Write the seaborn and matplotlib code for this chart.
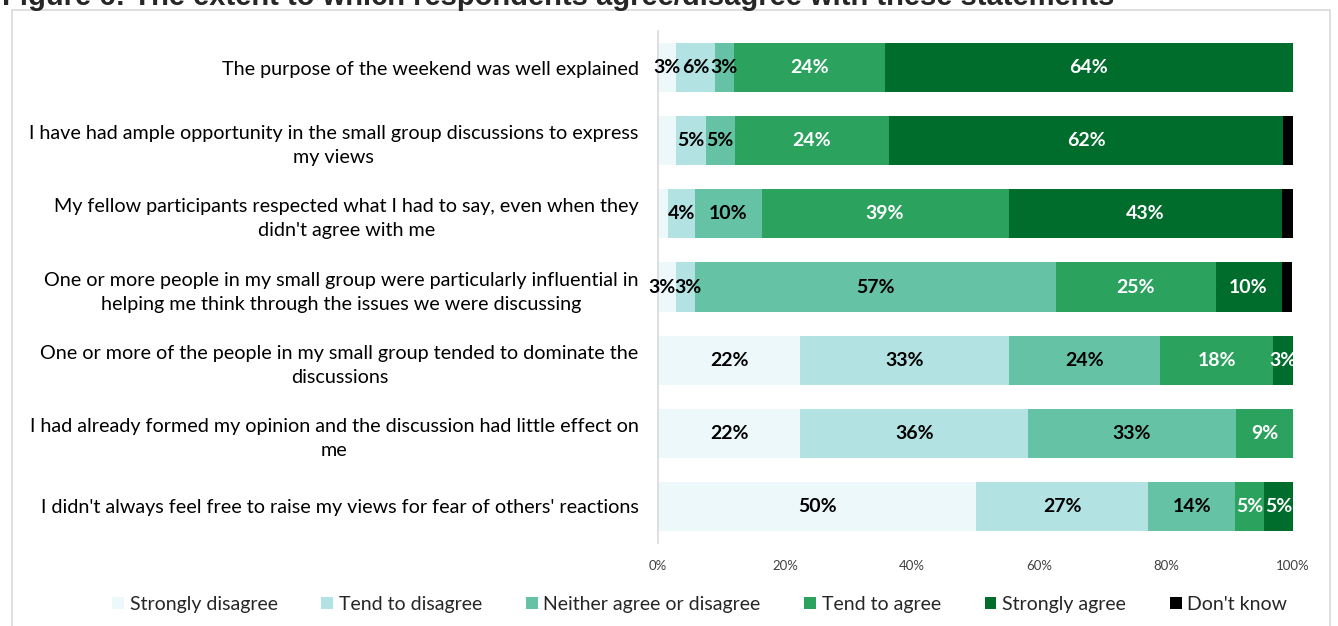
import numpy as np
import pandas as pd
import seaborn as sns
import matplotlib.pyplot as plt
from matplotlib.patches import Rectangle

# statements (top to bottom)
statements = [
    "The purpose of the weekend was well explained",
    "I have had ample opportunity in the small group discussions to express\nmy views",
    "My fellow participants respected what I had to say, even when they\ndidn't agree with me",
    "One or more people in my small group were particularly influential in\nhelping me think through the issues we were discussing",
    "One or more of the people in my small group tended to dominate the\ndiscussions",
    "I had already formed my opinion and the discussion had little effect on\nme",
    "I didn't always feel free to raise my views for fear of others' reactions",
]
responses = ['Strongly disagree', 'Tend to disagree', 'Neither agree or disagree',
             'Tend to agree', 'Strongly agree', "Don't know"]

# % of respondents
strongly_disagree = [2.9, 2.9, 1.5, 2.9, 22.4, 22.4, 50.1]
tend_disagree = [6.1, 4.6, 4.4, 3.0, 32.8, 35.9, 27.1]
neither = [2.9, 4.6, 10.4, 56.7, 23.9, 32.7, 13.7]
tend_agree = [23.8, 24.3, 38.9, 25.2, 17.8, 9.0, 4.6]
strongly_agree = [64.3, 62.0, 43.1, 10.4, 3.1, 0, 4.6]
dont_know = [0, 1.7, 1.7, 1.7, 0, 0, 0]

# labels that aren't shown in the original (row, response)
hidden = [(1, 0), (2, 0)]

colours = ['#EDF8FB', '#B2E2E2', '#66C2A4', '#2CA25F', '#006D2C', '#000000']
text_colours = ['black', 'black', 'black', 'white', 'white', 'white']

df = pd.DataFrame({'statement': statements,
                   responses[0]: strongly_disagree,
                   responses[1]: tend_disagree,
                   responses[2]: neither,
                   responses[3]: tend_agree,
                   responses[4]: strongly_agree,
                   responses[5]: dont_know})
cum = df[responses].cumsum(axis=1)

sns.set_theme(style='white')
plt.rcParams['font.family'] = ['Lato', 'DejaVu Sans']

W, H = 1338, 626
fig = plt.figure(figsize=(W / 100, H / 100), dpi=100)
ax = fig.add_axes([658 / W, 1 - 543 / H, 635 / W, 512 / H])

# stacked bars: draw cumulative totals from the right end back
for j in reversed(range(len(responses))):
    sns.barplot(x=cum[responses[j]], y=df['statement'], orient='h', color=colours[j],
                saturation=1, width=0.67, linewidth=0, label=responses[j], ax=ax)

for i in range(len(statements)):
    for j in range(len(responses) - 1):
        v = df.loc[i, responses[j]]
        if v <= 0 or (i, j) in hidden:
            continue
        x = cum.loc[i, responses[j]] - v / 2
        # two tiny neighbouring segments: push the labels apart a bit
        if v < 3.5 and j + 1 < len(responses) and 0 < df.loc[i, responses[j + 1]] < 3.5:
            x -= 0.9
        elif v < 3.5 and j > 0 and 0 < df.loc[i, responses[j - 1]] < 3.5 and (i, j - 1) not in hidden:
            x += 0.3
        ax.text(x, i, f'{round(v)}%', ha='center', va='center',
                fontsize=14, fontweight='bold', color=text_colours[j])

ax.set_xlim(0, 100)
ax.set_ylim(6.5, -0.5)
ax.set_xticks(range(0, 101, 20))
ax.set_xticklabels([f'{t}%' for t in range(0, 101, 20)], fontsize=9.5, color='#404040')
ax.set_yticks(range(len(statements)))
ax.set_yticklabels(statements, fontsize=14.2, color='black', ha='right',
                   multialignment='center', linespacing=1.5)
ax.tick_params(axis='y', length=0, pad=14)
ax.tick_params(axis='x', length=0, pad=12)
ax.set_xlabel('')
ax.set_ylabel('')
for s in ['top', 'right', 'bottom']:
    ax.spines[s].set_visible(False)
ax.spines['left'].set_color('#D9D9D9')
ax.spines['left'].set_linewidth(1.2)
if ax.get_legend():
    ax.get_legend().remove()

handles, labels = ax.get_legend_handles_labels()
fig.legend(handles[::-1], labels[::-1], loc='center', bbox_to_anchor=(0.523, 0.035), ncol=6,
           frameon=False, fontsize=14, handlelength=0.6, handleheight=0.6,
           handletextpad=0.3, columnspacing=2.25)

fig.patches.append(Rectangle((12 / W, -0.01), (1330 - 12) / W, (H - 10) / H + 0.01,
                             transform=fig.transFigure, fill=False, edgecolor='#D9D9D9', lw=1.2))
fig.text(2 / W, 1 - 5 / H, 'Figure 6: The extent to which respondents agree/disagree with these statements',
         family=['Liberation Sans', 'DejaVu Sans'], fontweight='bold', fontsize=21, va='baseline', ha='left')

fig.savefig('out.png', dpi=100)
